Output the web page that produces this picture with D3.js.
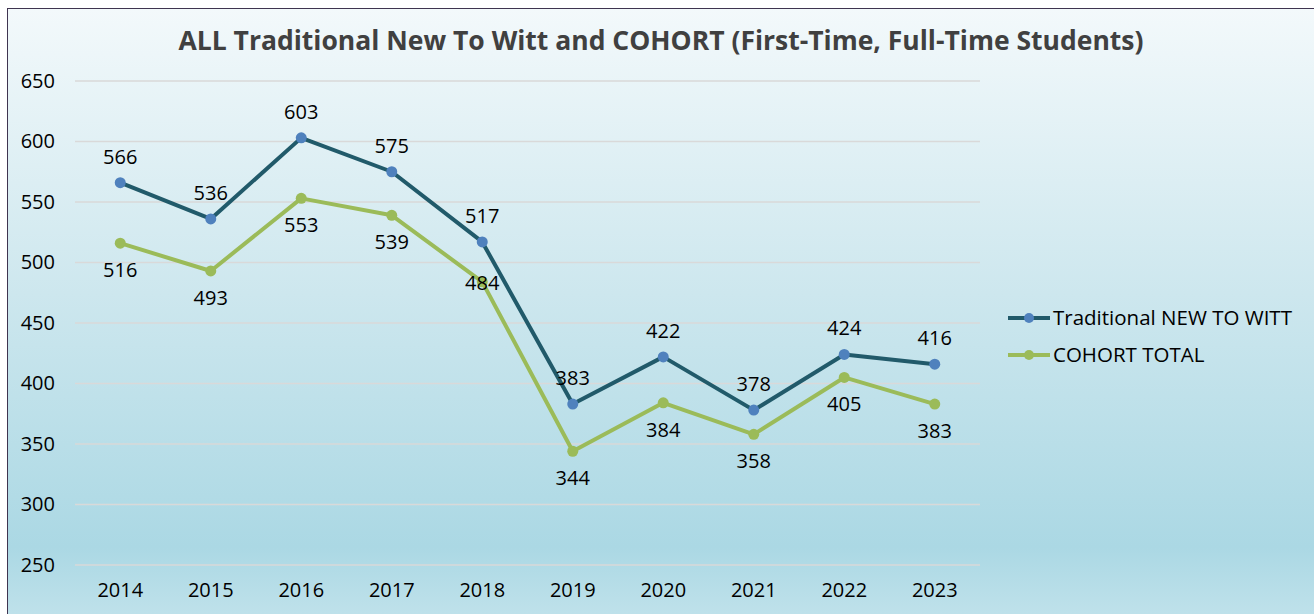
<!DOCTYPE html>
<html>
<head>
<meta charset="utf-8">
<script src="https://cdn.jsdelivr.net/npm/d3@7"></script>
<style>
  html, body { margin: 0; padding: 0; background: #fff; }
  svg text { font-family: "Open Sans", "Noto Sans", sans-serif; }
</style>
</head>
<body>
<div id="chart"></div>
<script>
  // data
  const years = ['2014', '2015', '2016', '2017', '2018', '2019', '2020', '2021', '2022', '2023'];
  const newToWitt = [566, 536, 603, 575, 517, 383, 422, 378, 424, 416];
  const cohortTotal = [516, 493, 553, 539, 484, 344, 384, 358, 405, 383];
  const yTicks = [250, 300, 350, 400, 450, 500, 550, 600, 650];
  const seriesNames = ['Traditional NEW TO WITT', 'COHORT TOTAL'];

  let width = 1314;
  let height = 614;
  let plot = {left: 75, right: 980, top: 81, bottom: 565};
  let fontSize = 20;

  let svg = d3.select('#chart')
  .append('svg')
  .attr('width', width)
  .attr('height', height);

  //background gradient like the excel chart area
  let defs = svg.append('defs');
  let grad = defs.append('linearGradient')
  .attr('id', 'bg')
  .attr('x1', 0).attr('y1', 0).attr('x2', 0).attr('y2', 1);
  grad.append('stop').attr('offset', '0%').attr('stop-color', '#f3f9fb');
  grad.append('stop').attr('offset', '45%').attr('stop-color', '#cde7ee');
  grad.append('stop').attr('offset', '85%').attr('stop-color', '#abd8e4');
  grad.append('stop').attr('offset', '100%').attr('stop-color', '#c7e5ed');

  svg.append('rect')
  .attr('x', 7.5)
  .attr('y', 8.5)
  .attr('width', width + 20)
  .attr('height', height + 20)
  .attr('fill', 'url(#bg)')
  .attr('stroke', '#3f3450')
  .attr('stroke-width', 1);

  svg.append('text')
  .attr('x', 661)
  .attr('y', 50)
  .attr('text-anchor', 'middle')
  .attr('font-size', 26.5)
  .attr('font-weight', 'bold')
  .attr('fill', '#404040')
  .text('ALL Traditional New To Witt and COHORT (First-Time, Full-Time Students)');

  let x = d3.scaleBand().domain(years).range([plot.left, plot.right]);
  let y = d3.scaleLinear().domain([250, 650]).range([plot.bottom, plot.top]);

  //gridlines
  svg.append('g')
  .selectAll('line')
  .data(yTicks)
  .enter().append('line')
  .attr('x1', plot.left)
  .attr('x2', plot.right)
  .attr('y1', (d) => y(d))
  .attr('y2', (d) => y(d))
  .attr('stroke', '#d9d9d9')
  .attr('stroke-width', 1.5);

  //y axis, no domain line
  let yAxis = svg.append('g')
  .attr('transform', `translate(${plot.left - 20}, 0)`)
  .call(d3.axisLeft(y).tickValues(yTicks).tickSize(0).tickPadding(0));
  yAxis.select('.domain').remove();
  yAxis.selectAll('text')
  .attr('font-size', fontSize)
  .attr('fill', '#000')
  .attr('font-family', '"Open Sans", sans-serif');

  let xAxis = svg.append('g')
  .attr('transform', `translate(0, ${plot.bottom})`)
  .call(d3.axisBottom(x).tickSize(0).tickPadding(18));
  xAxis.select('.domain').remove();
  xAxis.selectAll('text')
  .attr('font-size', fontSize)
  .attr('fill', '#000')
  .attr('font-family', '"Open Sans", sans-serif');

  let cx = (d, i) => x(years[i]) + x.bandwidth() / 2;

  let series = [
    {name: seriesNames[0], values: newToWitt, line: '#215a6a', dot: '#4f81bd', labelDy: -19},
    {name: seriesNames[1], values: cohortTotal, line: '#9bbb59', dot: '#9bbb59', labelDy: 34}
  ];

  let line = d3.line()
  .x(cx)
  .y((d) => y(d));

  series.forEach((s) => {
    let g = svg.append('g');

    g.append('path')
    .datum(s.values)
    .attr('d', line)
    .attr('fill', 'none')
    .attr('stroke', s.line)
    .attr('stroke-width', 4)
    .attr('stroke-linejoin', 'round');

    g.selectAll('circle')
    .data(s.values)
    .enter().append('circle')
    .attr('cx', cx)
    .attr('cy', (d) => y(d))
    .attr('r', 5.5)
    .attr('fill', s.dot);
  });

  //data labels drawn after all lines so they sit on top
  series.forEach((s) => {
    svg.append('g')
    .selectAll('text')
    .data(s.values)
    .enter().append('text')
    .attr('x', cx)
    .attr('y', (d, i) => {
      // the 2018 cohort label sits centred on its point in the original
      if (s.name === 'COHORT TOTAL' && years[i] === '2018') return y(d) + 8;
      return y(d) + s.labelDy;
    })
    .attr('text-anchor', 'middle')
    .attr('font-size', fontSize)
    .attr('fill', '#000')
    .text((d) => d);
  });

  //legend
  let legend = svg.append('g')
  .selectAll('g')
  .data(series)
  .enter().append('g')
  .attr('transform', (d, i) => `translate(1008, ${318 + i * 37})`);

  legend.append('line')
  .attr('x1', 0).attr('x2', 42)
  .attr('stroke', (d) => d.line)
  .attr('stroke-width', 4);

  legend.append('circle')
  .attr('cx', 21)
  .attr('r', 5)
  .attr('fill', (d) => d.dot);

  legend.append('text')
  .attr('x', 45)
  .attr('y', 7)
  .attr('font-size', 20.5)
  .attr('fill', '#000')
  .text((d) => d.name);
</script>
</body>
</html>
